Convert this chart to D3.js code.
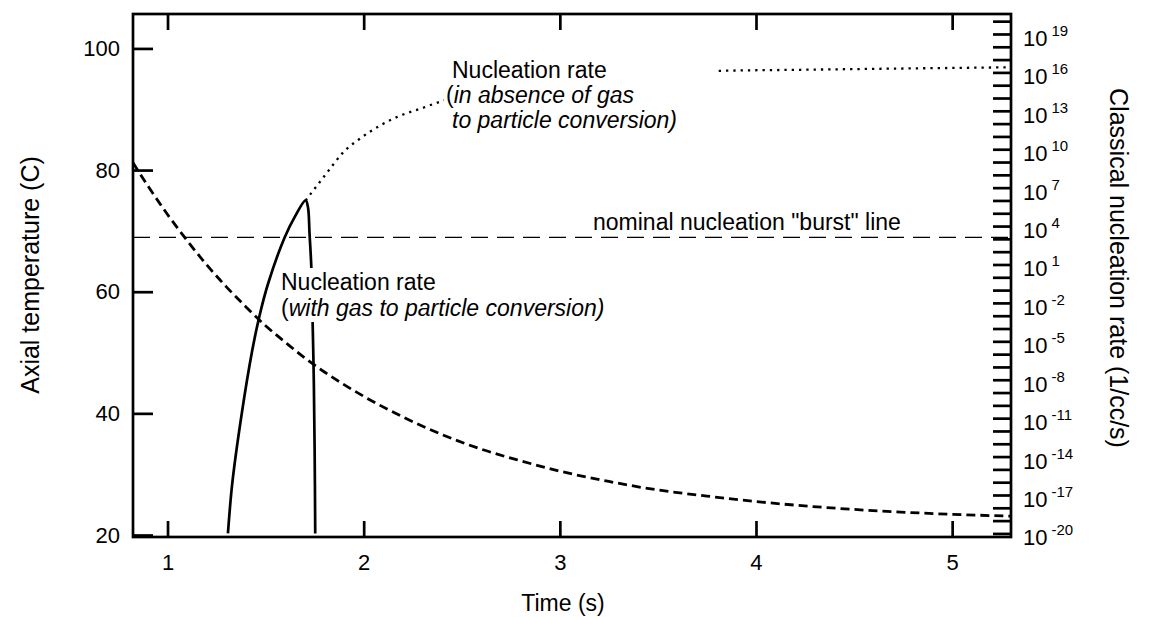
<!DOCTYPE html>
<html><head><meta charset="utf-8">
<script src="https://cdn.jsdelivr.net/npm/d3@7"></script>
<style>
body{margin:0;background:#fff}
svg{display:block}
text{font-family:"Liberation Sans",Arial,Helvetica,sans-serif;fill:#000}
</style>
</head><body>
<svg id="chart" width="1151" height="617"></svg>
<script>
// ---- tick definitions ----
const timeTicks = [1, 2, 3, 4, 5];
const tempTicks = [20, 40, 60, 80, 100];
const rateLabelExps = [19, 16, 13, 10, 7, 4, 1, -2, -5, -8, -11, -14, -17, -20];
const rateTickExps = [20,19,18,17,16,15,14,13,12,11,10,9,8,7,6,5,4,3,2,1,0,-1,-2,-3,-4,-5,-6,-7,-8,-9,-10,-11,-12,-13,-14,-15,-16,-17,-18,-19,-20];

// ---- axial temperature (dashed, left axis) ----
const tempTime = [0.824, 0.9, 1.0, 1.1, 1.2, 1.3, 1.4, 1.5, 1.6, 1.7, 1.8, 2.0, 2.2, 2.4, 2.6, 2.8, 3.0, 3.25, 3.5, 3.75, 4.0, 4.5, 5.0, 5.30];
const tempC    = [81.2, 77.4, 72.7, 68.4, 64.4, 60.8, 57.5, 54.4, 51.7, 49.1, 46.8, 42.8, 39.4, 36.5, 34.1, 32.2, 30.5, 28.8, 27.4, 26.4, 25.5, 24.2, 23.4, 23.1];

// ---- nucleation rate with gas-to-particle conversion (solid, right axis) ----
const withTime = [1.308, 1.330, 1.376, 1.432, 1.469, 1.512, 1.597, 1.648, 1.704, 1.716, 1.724, 1.733, 1.741, 1.746, 1.750, 1.753];
const withRate = [1e-20, 8e-17, 1.3e-11, 2e-6, 1e-3, 0.3, 1.3e3, 5e4, 1e6, 2.9e5, 2.5e3, 6.3, 4e-5, 5e-9, 3e-14, 1e-20];

// ---- nucleation rate in absence of conversion (dotted, right axis) ----
const absTime = [1.704, 1.750, 1.801, 1.852, 1.893, 1.980, 2.082, 2.184, 2.286, 2.388, 2.439, 2.694, 2.949, 3.204, 3.459, 3.796, 4.224, 4.735, 5.30];
const absRate = [1e6, 8.3e6, 8.5e7, 8.9e8, 5.2e9, 6.6e10, 6.8e11, 4.1e12, 1.4e13, 5e13, 8.5e13, 7.4e14, 2.2e15, 4.5e15, 7.6e15, 1.3e16, 1.6e16, 2e16, 2.5e16];

// ---- nominal burst line (right axis) ----
const burstRate = [1.3e3];

// ---- layout ----
const L = 133, R = 1011, T = 14, B = 537;
const FS_TICK = 22, FS_ANN = 23, FS_TITLE = 25, FS_XTITLE = 23;

const svg = d3.select("#chart");
const x = d3.scaleLinear().domain([0.824, 5.30]).range([L, R]);
const yT = d3.scaleLinear().domain([19.67, 105.66]).range([B, T]);
const yR = d3.scaleLog().domain([Math.pow(10, -20.28), Math.pow(10, 20.56)]).range([B, T]);

svg.append("defs").append("clipPath").attr("id", "plotclip")
  .append("rect").attr("x", L).attr("y", T).attr("width", R - L).attr("height", B - T);

const curves = svg.append("g").attr("clip-path", "url(#plotclip)");

// burst line
curves.selectAll(".burst").data(burstRate).join("line")
  .attr("x1", L).attr("x2", R)
  .attr("y1", d => yR(d)).attr("y2", d => yR(d))
  .attr("stroke", "#000").attr("stroke-width", 1.3).attr("stroke-dasharray", "17,9");

// temperature
const tempData = tempTime.map((t, i) => [t, tempC[i]]);
curves.append("path").datum(tempData)
  .attr("d", d3.line().x(d => x(d[0])).y(d => yT(d[1])).curve(d3.curveMonotoneX))
  .attr("fill", "none").attr("stroke", "#000").attr("stroke-width", 2.8).attr("stroke-dasharray", "9,5");

// absence dotted
const absData = absTime.map((t, i) => [t, absRate[i]]);
curves.append("path").datum(absData)
  .attr("d", d3.line().x(d => x(d[0])).y(d => yR(d[1])).curve(d3.curveMonotoneX))
  .attr("fill", "none").attr("stroke", "#000").attr("stroke-width", 2.3).attr("stroke-dasharray", "2.3,5");

// with conversion solid
const withData = withTime.map((t, i) => [t, withRate[i]]);
curves.append("path").datum(withData)
  .attr("d", d3.line().x(d => x(d[0])).y(d => yR(d[1])).curve(d3.curveCatmullRom.alpha(0.5)))
  .attr("fill", "none").attr("stroke", "#000").attr("stroke-width", 2.7).attr("stroke-linejoin", "round");

// ---- annotations with opaque background ----
function annotation(x0, y0, lines, lh, extraRight) {
  const g = svg.append("g");
  const t = g.append("text").attr("font-size", FS_ANN);
  lines.forEach((parts, i) => {
    parts.forEach((p, j) => {
      const ts = t.append("tspan").text(p.s);
      if (j === 0) ts.attr("x", x0 + (p.dx || 0)).attr("y", y0 + i * lh);
      if (p.it) ts.attr("font-style", "italic");
    });
  });
  const bb = t.node().getBBox();
  g.insert("rect", "text").attr("x", bb.x - 2).attr("y", bb.y - 1)
    .attr("width", bb.width + 4 + (extraRight || 0)).attr("height", bb.height + 2).attr("fill", "#fff");
}
annotation(452, 78, [
  [{s: "Nucleation rate"}],
  [{s: "(", dx: -6}, {s: "in absence of gas", it: true}],
  [{s: "to particle conversion)", it: true}]
], 25, 36);
annotation(281, 290, [
  [{s: "Nucleation rate"}],
  [{s: "("}, {s: "with gas to particle conversion)", it: true}]
], 26, 0);

svg.append("text").attr("x", 593).attr("y", 230).attr("font-size", FS_ANN)
  .text('nominal nucleation "burst" line');

// ---- axes ----
const axW = 2.7;
function styleAxis(g) {
  g.select(".domain").remove();
  g.selectAll(".tick line").attr("stroke", "#000").attr("stroke-width", axW);
  g.selectAll(".tick text").attr("font-size", FS_TICK).attr("font-family", null);
}
svg.append("g").attr("transform", `translate(0,${B})`)
  .call(d3.axisBottom(x).tickValues(timeTicks).tickSize(-16).tickPadding(17).tickFormat(d3.format("d")))
  .call(styleAxis);
svg.append("g").attr("transform", `translate(0,${T})`)
  .call(d3.axisTop(x).tickValues(timeTicks).tickSize(-16).tickFormat(""))
  .call(styleAxis);
svg.append("g").attr("transform", `translate(${L},0)`)
  .call(d3.axisLeft(yT).tickValues(tempTicks).tickSize(-20).tickPadding(13).tickFormat(d3.format("d")))
  .call(styleAxis);
svg.append("g").attr("transform", `translate(${R},0)`)
  .call(d3.axisRight(yR).tickValues(rateTickExps.map(e => Math.pow(10, e))).tickSize(-18).tickFormat(""))
  .call(styleAxis);

// right labels with superscripts
const rl = svg.append("g");
rateLabelExps.forEach(e => {
  const yy = yR(Math.pow(10, e));
  const t = rl.append("text").attr("x", R + 12).attr("y", yy + 12).attr("font-size", FS_TICK);
  t.append("tspan").text("10");
  t.append("tspan").attr("dx", 4).attr("dy", -10).attr("font-size", 15).text(e);
});

// frame
svg.append("rect").attr("x", L).attr("y", T).attr("width", R - L).attr("height", B - T)
  .attr("fill", "none").attr("stroke", "#000").attr("stroke-width", axW);

// axis titles
svg.append("text").attr("x", 563).attr("y", 611).attr("text-anchor", "middle").attr("font-size", FS_XTITLE).text("Time (s)");
svg.append("text").attr("transform", "translate(39,275) rotate(-90)").attr("text-anchor", "middle")
  .attr("font-size", FS_TITLE).text("Axial temperature (C)");
svg.append("text").attr("transform", "translate(1110,268) rotate(90)").attr("text-anchor", "middle")
  .attr("font-size", FS_TITLE).text("Classical nucleation rate (1/cc/s)");
</script>
</body></html>
